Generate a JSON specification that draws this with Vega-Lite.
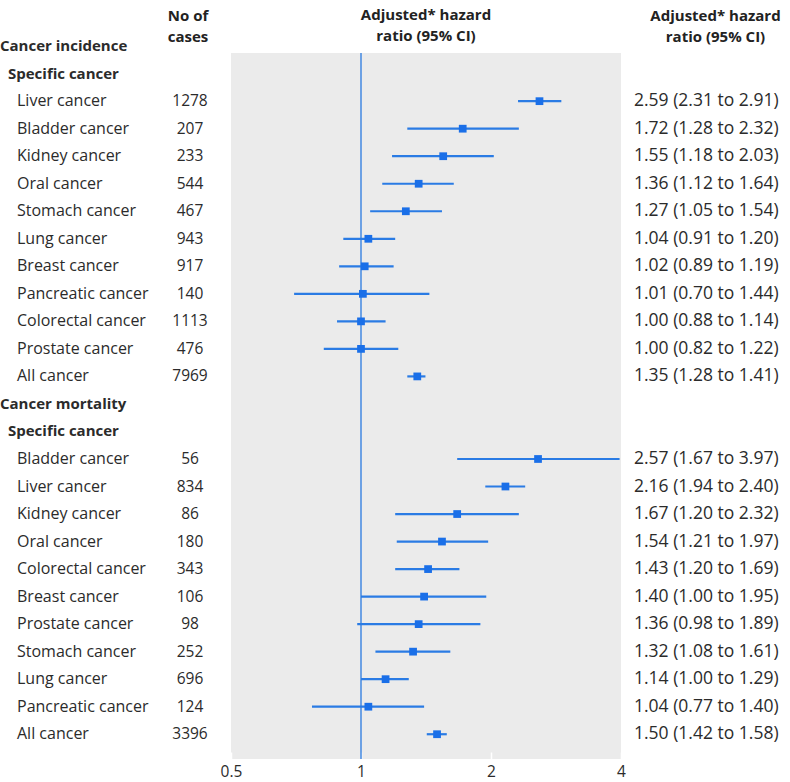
{
  "$schema": "https://vega.github.io/schema/vega-lite/v6.json",
  "autosize": {"type": "pad"},
  "padding": {"left": 0, "top": 8, "right": 0, "bottom": 0},
  "bounds": "flush",
  "spacing": 0,
  "background": "white",
  "config": {
    "view": {"stroke": null},
    "font": "Open Sans",
    "title": {"font": "Open Sans", "fontSize": 15, "fontWeight": "bold", "color": "#222222", "lineHeight": 21, "offset": 8, "frame": "group"},
    "text": {"font": "Open Sans", "fontSize": 15, "color": "#2b2b2b", "baseline": "middle"}
  },
  "data": {
    "values": [
      {"row": 0, "label": "Cancer incidence", "type": "group"},
      {"row": 1, "label": "Specific cancer", "type": "sub"},
      {"row": 2, "label": "Liver cancer", "type": "item", "cases": "1278", "hr": 2.59, "lo": 2.31, "hi": 2.91, "ci": "2.59 (2.31 to 2.91)"},
      {"row": 3, "label": "Bladder cancer", "type": "item", "cases": "207", "hr": 1.72, "lo": 1.28, "hi": 2.32, "ci": "1.72 (1.28 to 2.32)"},
      {"row": 4, "label": "Kidney cancer", "type": "item", "cases": "233", "hr": 1.55, "lo": 1.18, "hi": 2.03, "ci": "1.55 (1.18 to 2.03)"},
      {"row": 5, "label": "Oral cancer", "type": "item", "cases": "544", "hr": 1.36, "lo": 1.12, "hi": 1.64, "ci": "1.36 (1.12 to 1.64)"},
      {"row": 6, "label": "Stomach cancer", "type": "item", "cases": "467", "hr": 1.27, "lo": 1.05, "hi": 1.54, "ci": "1.27 (1.05 to 1.54)"},
      {"row": 7, "label": "Lung cancer", "type": "item", "cases": "943", "hr": 1.04, "lo": 0.91, "hi": 1.20, "ci": "1.04 (0.91 to 1.20)"},
      {"row": 8, "label": "Breast cancer", "type": "item", "cases": "917", "hr": 1.02, "lo": 0.89, "hi": 1.19, "ci": "1.02 (0.89 to 1.19)"},
      {"row": 9, "label": "Pancreatic cancer", "type": "item", "cases": "140", "hr": 1.01, "lo": 0.70, "hi": 1.44, "ci": "1.01 (0.70 to 1.44)"},
      {"row": 10, "label": "Colorectal cancer", "type": "item", "cases": "1113", "hr": 1.00, "lo": 0.88, "hi": 1.14, "ci": "1.00 (0.88 to 1.14)"},
      {"row": 11, "label": "Prostate cancer", "type": "item", "cases": "476", "hr": 1.00, "lo": 0.82, "hi": 1.22, "ci": "1.00 (0.82 to 1.22)"},
      {"row": 12, "label": "All cancer", "type": "item", "cases": "7969", "hr": 1.35, "lo": 1.28, "hi": 1.41, "ci": "1.35 (1.28 to 1.41)"},
      {"row": 13, "label": "Cancer mortality", "type": "group"},
      {"row": 14, "label": "Specific cancer", "type": "sub"},
      {"row": 15, "label": "Bladder cancer", "type": "item", "cases": "56", "hr": 2.57, "lo": 1.67, "hi": 3.97, "ci": "2.57 (1.67 to 3.97)"},
      {"row": 16, "label": "Liver cancer", "type": "item", "cases": "834", "hr": 2.16, "lo": 1.94, "hi": 2.40, "ci": "2.16 (1.94 to 2.40)"},
      {"row": 17, "label": "Kidney cancer", "type": "item", "cases": "86", "hr": 1.67, "lo": 1.20, "hi": 2.32, "ci": "1.67 (1.20 to 2.32)"},
      {"row": 18, "label": "Oral cancer", "type": "item", "cases": "180", "hr": 1.54, "lo": 1.21, "hi": 1.97, "ci": "1.54 (1.21 to 1.97)"},
      {"row": 19, "label": "Colorectal cancer", "type": "item", "cases": "343", "hr": 1.43, "lo": 1.20, "hi": 1.69, "ci": "1.43 (1.20 to 1.69)"},
      {"row": 20, "label": "Breast cancer", "type": "item", "cases": "106", "hr": 1.40, "lo": 1.00, "hi": 1.95, "ci": "1.40 (1.00 to 1.95)"},
      {"row": 21, "label": "Prostate cancer", "type": "item", "cases": "98", "hr": 1.36, "lo": 0.98, "hi": 1.89, "ci": "1.36 (0.98 to 1.89)"},
      {"row": 22, "label": "Stomach cancer", "type": "item", "cases": "252", "hr": 1.32, "lo": 1.08, "hi": 1.61, "ci": "1.32 (1.08 to 1.61)"},
      {"row": 23, "label": "Lung cancer", "type": "item", "cases": "696", "hr": 1.14, "lo": 1.00, "hi": 1.29, "ci": "1.14 (1.00 to 1.29)"},
      {"row": 24, "label": "Pancreatic cancer", "type": "item", "cases": "124", "hr": 1.04, "lo": 0.77, "hi": 1.40, "ci": "1.04 (0.77 to 1.40)"},
      {"row": 25, "label": "All cancer", "type": "item", "cases": "3396", "hr": 1.50, "lo": 1.42, "hi": 1.58, "ci": "1.50 (1.42 to 1.58)"}
    ]
  },
  "hconcat": [
    {
      "width": 231,
      "height": 706,
      "title": {"text": ["No of", "cases"], "anchor": "end", "align": "center", "dx": -43, "dy": 14},
      "encoding": {
        "y": {"field": "row", "type": "quantitative", "scale": {"domain": [0.25, 25.9], "reverse": true, "nice": false, "zero": false}, "axis": null}
      },
      "layer": [
        {
          "transform": [{"filter": "datum.type === 'group'"}],
          "mark": {"type": "text", "align": "left", "fontWeight": "bold", "x": 0},
          "encoding": {"text": {"field": "label"}}
        },
        {
          "transform": [{"filter": "datum.type === 'sub'"}],
          "mark": {"type": "text", "align": "left", "fontWeight": "bold", "x": 8},
          "encoding": {"text": {"field": "label"}}
        },
        {
          "transform": [{"filter": "datum.type === 'item'"}],
          "mark": {"type": "text", "align": "left", "x": 17, "fontSize": 16},
          "encoding": {"text": {"field": "label"}}
        },
        {
          "transform": [{"filter": "datum.type === 'item'"}],
          "mark": {"type": "text", "align": "center", "x": 190, "fontSize": 15.5},
          "encoding": {"text": {"field": "cases"}}
        }
      ]
    },
    {
      "width": 390,
      "height": 706,
      "view": {"fill": "#ebebeb", "stroke": null},
      "title": {"text": ["Adjusted* hazard", "ratio (95% CI)"], "anchor": "middle"},
      "layer": [
        {
          "data": {"values": [{"ref": 1}]},
          "mark": {"type": "rule", "color": "#4d8fe3", "strokeWidth": 1.6},
          "encoding": {
            "x": {"field": "ref", "type": "quantitative", "scale": {"type": "log", "domain": [0.5, 4], "nice": false}}
          }
        },
        {
          "transform": [{"filter": "datum.type === 'item'"}],
          "mark": {"type": "rule", "color": "#2a7be4", "strokeWidth": 2.2},
          "encoding": {
            "y": {"field": "row", "type": "quantitative", "scale": {"domain": [0.25, 25.9], "reverse": true, "nice": false, "zero": false}, "axis": null},
            "x": {"field": "lo", "type": "quantitative", "scale": {"type": "log", "domain": [0.5, 4], "nice": false},
              "axis": {"values": [0.5, 1, 2, 4], "format": "~g", "title": null, "grid": false, "domain": false, "ticks": true, "tickColor": "white", "tickSize": -7, "tickWidth": 1.5, "labelPadding": 12, "labelFlush": false, "labelFontSize": 15.5, "labelColor": "#2b2b2b", "labelFont": "Open Sans"}},
            "x2": {"field": "hi"}
          }
        },
        {
          "transform": [{"filter": "datum.type === 'item'"}],
          "mark": {"type": "point", "shape": "square", "filled": true, "opacity": 1, "color": "#1a6fe8", "size": 60},
          "encoding": {
            "y": {"field": "row", "type": "quantitative"},
            "x": {"field": "hr", "type": "quantitative"}
          }
        }
      ]
    },
    {
      "width": 169,
      "height": 706,
      "title": {"text": ["Adjusted* hazard", "ratio (95% CI)"], "anchor": "middle", "dx": 10},
      "transform": [{"filter": "datum.type === 'item'"}],
      "mark": {"type": "text", "align": "left", "x": 13, "fontSize": 17.5},
      "encoding": {
        "y": {"field": "row", "type": "quantitative", "scale": {"domain": [0.25, 25.9], "reverse": true, "nice": false, "zero": false}, "axis": null},
        "text": {"field": "ci"}
      }
    }
  ]
}
